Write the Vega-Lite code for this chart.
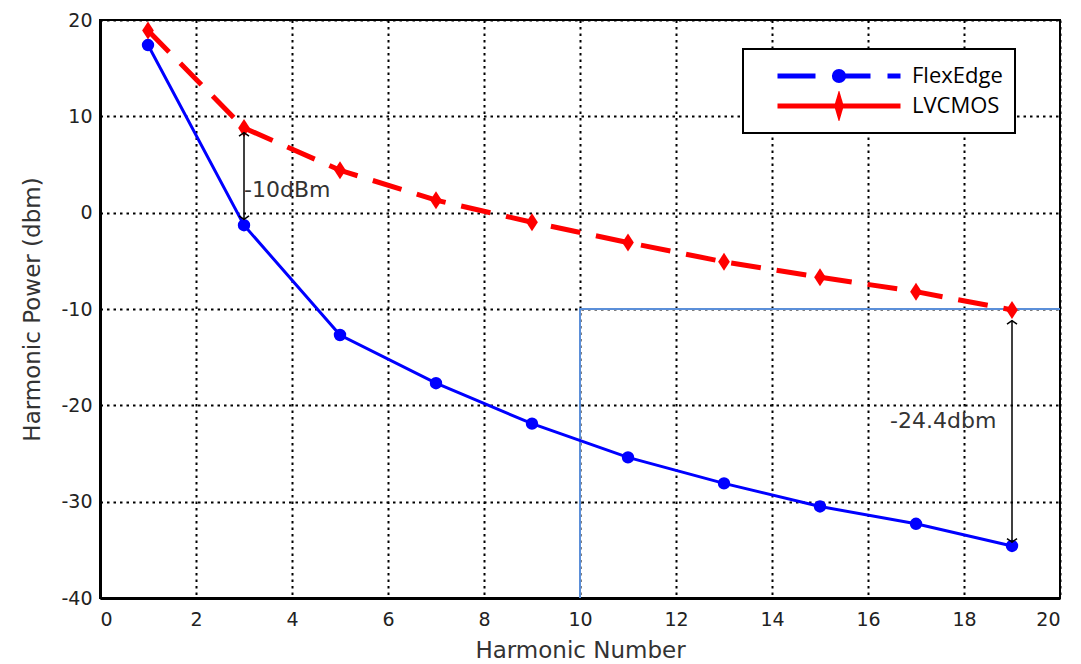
{
  "$schema": "https://vega.github.io/schema/vega-lite/v6.json",
  "width": 960,
  "height": 578,
  "autosize": {"type": "none"},
  "padding": {"left": 100, "top": 20, "right": 21, "bottom": 66},
  "background": "white",
  "config": {
    "view": {"stroke": "black", "strokeWidth": 2},
    "font": "DejaVu Sans",
    "axis": {
      "grid": true, "gridColor": "black", "gridDash": [2.5, 4], "gridWidth": 2, "gridOpacity": 1,
      "domainColor": "black", "domainWidth": 3, "ticks": false,
      "labelFont": "DejaVu Sans", "labelFontSize": 19, "labelColor": "#222",
      "labelExpr": "replace(datum.label, '\u2212', '-')",
      "titleFont": "DejaVu Sans", "titleFontSize": 23, "titleFontWeight": "normal", "titleColor": "#333"
    }
  },
  "datasets": {
    "flex": [
      {"n": 1, "p": 17.4, "series": "FlexEdge"},
      {"n": 3, "p": -1.3, "series": "FlexEdge"},
      {"n": 5, "p": -12.7, "series": "FlexEdge"},
      {"n": 7, "p": -17.7, "series": "FlexEdge"},
      {"n": 9, "p": -21.9, "series": "FlexEdge"},
      {"n": 11, "p": -25.4, "series": "FlexEdge"},
      {"n": 13, "p": -28.1, "series": "FlexEdge"},
      {"n": 15, "p": -30.5, "series": "FlexEdge"},
      {"n": 17, "p": -32.3, "series": "FlexEdge"},
      {"n": 19, "p": -34.6, "series": "FlexEdge"}
    ],
    "lv": [
      {"n": 1, "p": 18.9, "series": "LVCMOS"},
      {"n": 3, "p": 8.8, "series": "LVCMOS"},
      {"n": 5, "p": 4.4, "series": "LVCMOS"},
      {"n": 7, "p": 1.3, "series": "LVCMOS"},
      {"n": 9, "p": -1.0, "series": "LVCMOS"},
      {"n": 11, "p": -3.1, "series": "LVCMOS"},
      {"n": 13, "p": -5.1, "series": "LVCMOS"},
      {"n": 15, "p": -6.7, "series": "LVCMOS"},
      {"n": 17, "p": -8.2, "series": "LVCMOS"},
      {"n": 19, "p": -10.1, "series": "LVCMOS"}
    ],
    "box": [
      {"i": 0, "n": 10, "p": -40},
      {"i": 1, "n": 10, "p": -10},
      {"i": 2, "n": 20, "p": -10}
    ],
    "arrows": [
      {"n": 3, "top": 8.3, "bottom": -0.7},
      {"n": 19, "top": -11.2, "bottom": -34.2}
    ],
    "heads": [
      {"n": 3, "p": 8.3, "dir": "up"},
      {"n": 3, "p": -0.7, "dir": "down"},
      {"n": 19, "p": -11.2, "dir": "up"},
      {"n": 19, "p": -34.2, "dir": "down"}
    ],
    "notes": [
      {"n": 3.0, "p": 2.35, "t": "-10dBm"},
      {"n": 16.46, "p": -21.6, "t": "-24.4dbm"}
    ]
  },
  "layer": [
    {
      "data": {"name": "box"},
      "mark": {"type": "line", "color": "#5b8fd9", "strokeWidth": 2},
      "encoding": {
        "x": {"field": "n", "type": "quantitative", "scale": {"domain": [0, 20], "nice": false},
              "axis": {"values": [0, 2, 4, 6, 8, 10, 12, 14, 16, 18, 20], "title": "Harmonic Number", "labelPadding": 12, "titlePadding": 10}},
        "y": {"field": "p", "type": "quantitative", "scale": {"domain": [-40, 20], "nice": false},
              "axis": {"values": [-40, -30, -20, -10, 0, 10, 20], "title": "Harmonic Power (dbm)", "labelPadding": 8, "titlePadding": 16}},
        "order": {"field": "i", "type": "quantitative"}
      }
    },
    {
      "data": {"name": "flex"},
      "mark": {"type": "line", "strokeWidth": 3},
      "encoding": {
        "x": {"field": "n", "type": "quantitative"},
        "y": {"field": "p", "type": "quantitative"},
        "color": {
          "field": "series", "type": "nominal",
          "scale": {"domain": ["FlexEdge", "LVCMOS"], "range": ["#0000ff", "#ff0000"]},
          "legend": {
            "title": null, "orient": "none", "legendX": 643, "legendY": 29,
            "strokeColor": "black", "fillColor": "white", "padding": 12,
            "symbolSize": 15129, "symbolStrokeWidth": 5, "symbolOffset": 20,
            "labelFont": "Open Sans", "labelFontSize": 22, "labelColor": "black", "labelOffset": 9,
            "clipHeight": 30, "rowPadding": 0,
            "encode": {
              "legend": {"update": {"strokeWidth": {"value": 2}}},
              "symbols": {
                "update": {
                  "size": {"value": 15129},
                  "shape": {"signal": "datum.value === 'FlexEdge' ? 'M-1,0L1,0M-0.075,0A0.075,0.075 0 1 1 0.075,0A0.075,0.075 0 1 1 -0.075,0Z' : 'M-1,0L1,0M0,-0.12L0.035,0L0,0.12L-0.035,0Z'"},
                  "strokeDash": {"signal": "datum.value === 'FlexEdge' ? [38, 17] : [1, 0]"},
                  "fill": {"signal": "datum.value === 'FlexEdge' ? '#0000ff' : '#ff0000'"},
                  "fillOpacity": {"value": 1}
                }
              }
            }
          }
        }
      }
    },
    {
      "data": {"name": "lv"},
      "mark": {"type": "line", "strokeWidth": 5, "strokeDash": [30, 16]},
      "encoding": {
        "x": {"field": "n", "type": "quantitative"},
        "y": {"field": "p", "type": "quantitative"},
        "color": {"field": "series", "type": "nominal"}
      }
    },
    {
      "data": {"name": "flex"},
      "mark": {"type": "point", "shape": "circle", "filled": true, "size": 154, "color": "#0000ff", "opacity": 1},
      "encoding": {
        "x": {"field": "n", "type": "quantitative"},
        "y": {"field": "p", "type": "quantitative"}
      }
    },
    {
      "data": {"name": "lv"},
      "mark": {"type": "point", "shape": "M0,-1L0.65,0L0,1L-0.65,0Z", "filled": true, "size": 324, "color": "#ff0000", "opacity": 1},
      "encoding": {
        "x": {"field": "n", "type": "quantitative"},
        "y": {"field": "p", "type": "quantitative"}
      }
    },
    {
      "data": {"name": "arrows"},
      "mark": {"type": "rule", "color": "black", "strokeWidth": 1.5},
      "encoding": {
        "x": {"field": "n", "type": "quantitative"},
        "y": {"field": "top", "type": "quantitative"},
        "y2": {"field": "bottom"}
      }
    },
    {
      "data": {"name": "heads"},
      "mark": {"type": "point", "filled": false, "color": "black", "strokeWidth": 1.5, "size": 100, "opacity": 1},
      "encoding": {
        "x": {"field": "n", "type": "quantitative"},
        "y": {"field": "p", "type": "quantitative"},
        "shape": {"field": "dir", "type": "nominal", "legend": null,
                  "scale": {"domain": ["up", "down"], "range": ["M-1,0.7L0,0L1,0.7", "M-1,-0.7L0,0L1,-0.7"]}}
      }
    },
    {
      "data": {"name": "notes"},
      "mark": {"type": "text", "align": "left", "baseline": "middle", "font": "DejaVu Sans", "fontSize": 22, "color": "#333"},
      "encoding": {
        "x": {"field": "n", "type": "quantitative"},
        "y": {"field": "p", "type": "quantitative"},
        "text": {"field": "t"}
      }
    }
  ]
}
